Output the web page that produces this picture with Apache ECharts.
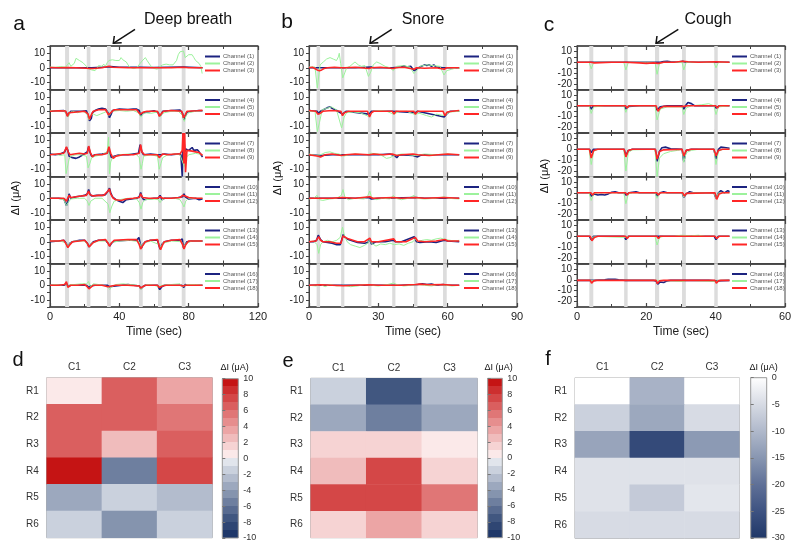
<!DOCTYPE html>
<html><head><meta charset="utf-8">
<script src="https://cdn.jsdelivr.net/npm/echarts@6/dist/echarts.min.js"></script>
<style>html,body{margin:0;padding:0;background:#fff}#c{width:799px;height:551px}</style>
</head><body><div id="c"></div>
<script>
// ---------- stimulus bands (sec) ----------
const bandsA = [[8.7,11],[21.2,23.3],[32.9,35.1],[51.3,53.5],[62.3,64.5],[76,78.2]];
const bandsB = [[3.3,4.8],[13.9,15.3],[25.5,27],[36,37.4],[45.4,46.9],[58,59.6]];
const bandsC = [[3.55,4.7],[13.6,14.6],[22.5,23.7],[30.3,31.4],[39.6,40.6]];

// ---------- panel a : deep breath ----------
const A1 = [[0,0],[9,0],[10,0.5],[11,0],[22,0],[23,-0.5],[24,0],[33,0.5],[34,1.2],[35,0.8],[40,0.3],[52,0.3],[53,0.5],[60,0.2],[77,0.5],[78,0.2],[88,0]];
const A2 = [[0,0.5],[3,0.3],[6,0.8],[9,0.4],[10,2],[11,3.5],[12,1],[13,0.5],[14,3],[15,6.5],[16,7],[17,5],[18,4.5],[19,3.5],[20,4],[21,1],[22,-0.5],[23,-0.5],[24,-1.5],[25,-1],[26,-2],[27,-0.5],[28,1.5],[29,2],[30,1],[31,2.5],[32,1],[33,3.5],[34,5],[35,4],[36,5.5],[37,4.5],[38,5],[39,6],[40,5],[41,7],[42,5.5],[43,6],[44,4],[45,2],[46,0.5],[47,0.3],[48,-0.5],[49,0.5],[50,0],[51,1],[52,3],[53,4.5],[54,5],[55,7],[56,5],[57,4],[58,1.5],[59,0.5],[60,-0.5],[61,-1.5],[62,-1],[63,0.5],[64,1.5],[65,2],[66,1.5],[67,2.5],[68,1.5],[69,2],[70,2.5],[71,2],[72,3],[73,5],[74,9],[75,11],[76,10],[77,11.5],[78,7],[79,6],[80,9],[81,8.5],[82,9],[83,7],[84,5],[85,4],[86,3],[87,1],[87.8,-4]];
const A3 = [[0,0.2],[5,0],[10,0.2],[15,0],[21,-0.3],[22,-1],[23,-0.5],[25,-0.5],[30,0],[34,1],[36,0.3],[45,0],[52,0],[60,0],[70,0],[77,0.3],[80,0],[88,0]];
const A4 = [[0,0],[5,0.3],[8,0.5],[9.5,-1],[10.3,-3.5],[11,-1.5],[12,0],[18,0],[21,0.3],[22,-3],[22.8,-6.5],[23.8,-5],[24.5,-1],[26,0.5],[28,1.5],[30,2],[32,1.5],[33.5,-1],[34.3,-4.5],[35.3,-2],[36,0.5],[40,1.5],[45,1.2],[48,1.5],[50,1.5],[51.5,0.5],[52.3,-3],[53,-4],[54,-1],[55,0],[60,0.3],[62.5,-1],[63.3,-3.5],[64.3,-2],[65,0],[70,0.5],[75,0.8],[76.5,-1.5],[77.3,-6],[78.2,-3],[79,-0.5],[82,0],[86,0.5],[88,0.3]];
const A5 = [[0,0.5],[4,0],[8,0.5],[9.5,-2],[10.5,-4],[11.5,-1],[13,0],[16,-1],[19,0],[21.5,-2],[22.5,-6],[23.5,-3],[25,-2],[27,-3],[29,-2],[31,-1],[33,0],[34,-3],[35,-2],[36,0],[40,0.5],[44,0],[48,0.5],[51,-1],[52.5,-4],[53.5,-2],[55,-1],[58,-1.5],[60,-1],[62,-0.5],[63.5,-4],[64.5,-2],[66,-1],[70,0],[74,0],[76.5,-3],[77.5,-7],[78.5,-3],[80,-1],[84,0],[88,0.5]];
const A6 = [[0,0],[5,0.3],[9,0.2],[10,-3.5],[11,-1],[12,0],[20,0],[22,-2],[22.8,-5.5],[24,-2],[25,0],[28,1],[32,1.2],[33.8,-2.5],[34.5,-3.5],[35.5,-0.5],[37,1],[45,1],[50,1],[52,-2],[52.8,-3],[54,-0.5],[56,0],[62,0],[63,-3.5],[64,-2],[65.5,0],[70,0.5],[76,0],[77,-4.5],[78,-2.5],[79,0],[85,0.3],[88,0.6]];
const A7 = [[0,0.5],[3,0],[6,0.5],[8.5,2],[9.5,5],[10.3,3],[11,-1],[13,-2],[15,-2.5],[17,-1.5],[19,0],[21.5,2],[22.3,5.5],[23,2],[24,-1],[26,0],[30,0.5],[33,1],[33.8,5],[34.5,1],[35.5,-2],[37,-1],[40,0],[45,0],[48,0.5],[51,1],[52,7],[53,2],[54,0],[58,0.5],[62,0],[63,1],[64,0],[66,0.5],[70,0],[74,0.5],[75.5,0],[76.3,-15],[76.8,15],[77.3,10],[77.8,2],[78.3,4],[79,4.5],[80,3],[82,5],[83,3],[85,3.5],[86,2],[88,-1.5]];
const A8 = [[0,0],[3,0.5],[6,-0.5],[8.5,0],[9.3,-13],[10.3,-12],[11,-3],[12,-1],[15,0],[18,0],[21,-1],[22,-9],[23,-6],[24,-2],[26,-1],[30,0],[33,2],[33.8,12],[34.3,-13],[35,-5],[36,-2],[40,0],[45,0.5],[50,0],[51.5,-2],[52.5,-10],[53.3,-6],[54,-1],[58,0],[62,-1],[63,-10],[64,-6],[65,-2],[68,0],[72,0.5],[75,0],[76.5,-5],[77.5,-8],[78.5,-2],[80,0],[84,1],[88,0]];
const A9 = [[0,0],[4,0.5],[8,1],[9.5,5.5],[10.5,2],[11.5,0],[14,0.5],[17,1],[20,0.5],[21.5,1],[22.3,6],[23.3,1.5],[24.5,-1.5],[26,0],[30,0],[33,1],[34,5.5],[35,1],[36.5,-2.5],[38,-1],[42,0],[48,0],[51.5,1],[52.3,7],[53,2],[54.5,0],[58,0],[62,0],[63,-2],[64,-1],[65,0.5],[68,0],[72,0.5],[75,0.5],[76.3,3],[76.7,15],[77.2,-6],[77.7,15],[78.2,-12],[79,3],[80,2],[82,2.5],[84,2],[86,1.5],[88,-0.5]];
const A10 = [[0,0],[5,0],[8,-0.5],[9.5,-5],[10.3,-2],[11,3],[12,0],[15,1],[18,1.5],[20,2],[21.5,3],[22.3,6],[23,3],[24,1.5],[27,2],[30,2],[32,2.5],[33.5,5],[34.3,7],[35,4],[36,1],[38,-1],[40,-2],[42,-3],[44,-1],[47,-0.5],[50,0],[51.5,1],[52.3,4],[53,1],[54,-1],[57,-0.5],[60,0],[62.5,0],[63.5,2],[64.5,-1],[66,0],[70,0],[74,0.5],[76.5,1],[77.3,3],[78,1],[80,-0.5],[84,0],[86,-1],[88,-0.5]];
const A11 = [[0,0],[4,0],[8,-1],[9.5,-5],[10.5,-3],[12,-0.5],[16,0],[20,0],[21.5,-2],[22.5,-5],[23.5,-2],[26,0],[30,0],[33.5,-4],[34.5,-10],[35.5,-6],[37,-2],[40,-1],[45,0],[50,-0.5],[51.5,-3],[52.5,-7.5],[53.5,-3],[55,-1],[60,-0.5],[62.5,-1],[63.5,-3],[64.5,-1],[67,0],[72,0],[75,-1],[76.5,-4],[77.3,-6],[78.3,-2],[80,0],[84,0],[88,0]];
const A12 = [[0,0],[5,0],[8,0],[9.5,-2],[10.3,-1],[11,2],[12,0.5],[15,1],[18,1.5],[21,2],[22.3,5],[23,2.5],[25,1.5],[28,2],[31,2],[33.5,5],[34.3,6.5],[35,3],[36.5,0],[38,-1],[41,-1.5],[44,-0.5],[48,0],[51.5,0.5],[52.3,3],[53.5,0.5],[57,0],[62,0],[63.5,1],[65,0],[70,0],[75,0.5],[76.5,2],[77.3,3],[78,1.5],[80,0.5],[84,0],[88,0]];
const A13 = [[0,0],[5,0.5],[8,1],[9.3,-1],[10.3,-3.5],[11.5,-1],[13,0],[17,1],[20,1],[21.5,-1],[22.5,-3.5],[23.5,-2],[25,0],[28,1],[32,1],[33.5,-1],[34.5,-3],[35.5,-1],[37,0.5],[45,1],[50,1],[51.3,3],[52,-1],[52.7,-4.5],[53.5,-2],[55,0],[58,1],[62,1],[62.8,1.5],[63.5,-5],[64.5,-2],[66,0],[70,1],[75,1],[76.3,2],[77,-4],[78,-3],[79,0],[82,0.5],[88,0.5]];
const A14 = [[0,0.5],[6,0.5],[9.5,-1],[10.3,-3],[11.5,-1],[14,0.5],[20,0.5],[22.3,-3],[24,-1],[28,0.5],[33,0.5],[34,-2.5],[35.5,-0.5],[40,0.5],[46,1],[51.5,0],[52.5,-3.5],[54,-1],[58,0.5],[63,-2],[64,-4],[65,-1],[70,0.5],[76,0],[77,-3.5],[78.5,-1],[82,0.5],[88,0.5]];
const A15 = [[0,0.5],[5,0.5],[8,1],[9.5,-2],[10.3,-4],[11.5,-2],[13,0],[17,0.5],[20,1],[21.5,-1],[22.5,-3.5],[23.5,-2.5],[25,-0.5],[28,1],[32,1.5],[33.5,-1],[34.3,-3],[35.3,-1],[37,1],[45,1.5],[50,1.5],[51.5,-2],[52.3,-5],[53.3,-3],[55,0],[58,1],[62,1.5],[63,-3],[63.8,-5.5],[65,-2],[66,0],[70,1],[75,1.5],[76.5,-2],[77.3,-5],[78.3,-2],[80,0.5],[84,0.5],[88,0.5]];
const A16 = [[0,0],[8,0],[9.5,1],[10.5,-0.5],[12,0],[21,0],[22.3,-1.5],[23.5,-0.5],[26,0],[33,0],[34.3,-1],[35,0],[45,0.5],[51.5,-0.5],[52.5,-2.5],[53.5,-1],[55,0],[62,0],[63.3,-3],[64.5,-1],[66,0],[76,0],[77.2,-1.5],[78,0.5],[80,0],[88,0]];
const A17 = [[0,0],[3,0.5],[6,0],[9,1],[10.3,-1],[11.5,0.5],[14,0.5],[18,1],[21,1],[22.3,2.5],[23.3,-1],[25,1],[28,0.5],[31,0],[33.5,-1.5],[34.5,-3],[35.5,-1],[38,0.5],[42,1],[46,0.5],[50,0],[51.5,-1],[52.5,-3],[53.5,-1],[56,0.5],[60,0],[62.5,-1],[63.5,-2],[65,0],[70,0.5],[75,1],[76.5,-1],[77.5,-1.5],[79,0.5],[84,0.5],[88,0]];
const A18 = [[0,0],[5,0],[8.5,0.5],[9.5,2.5],[10.3,-1.5],[11,-0.5],[12,0],[16,0],[20,0.5],[21.5,-1],[22.5,-2.5],[23.5,-1.5],[25,0],[30,0],[33.5,-1],[34.3,-2],[35.5,-0.5],[38,0],[45,0],[51.5,-0.5],[52.3,-2],[53.5,-1],[55,0],[62,0],[63,-1.5],[63.8,-2],[65,-0.5],[67,0],[75,0],[76.5,-0.5],[77.3,-1],[78.5,0],[82,0],[88,0]];

// ---------- panel b : snore ----------
const B1 = [[0,0],[20,0],[27,0.5],[28,0],[36,0],[40,0.5],[41,1.5],[42,0.5],[44,1],[45.5,-2],[46.5,-1],[48,0.5],[50,2],[51,1.5],[52,2],[53,1],[54,2],[55,0.5],[58,0],[65,0]];
const B2 = [[0,0.5],[2.6,0.5],[3.6,-14],[4.8,2],[6.2,4],[7.6,6],[9.1,7],[10.5,6],[11.9,5],[12.7,7.5],[13.1,10],[13.7,3],[14.6,-7],[15.6,-3],[16.3,0],[17.7,1],[19.9,4],[21.3,2],[22.7,1],[24.2,1.5],[25.7,-6],[26.7,-3],[27.8,2],[29.3,4],[30.7,3],[32.9,1],[35,0],[36.5,-2],[37.9,1],[40.8,1.5],[43.7,0.5],[45.4,-4],[46.6,-2],[48,1],[50.9,2],[53.8,1.5],[56.7,1],[58.4,-5],[59.6,-2],[61.8,-1],[63.9,0],[65.3,-0.5]];
const B3 = [[0,0],[1.5,0.3],[2.5,-0.5],[3.5,-1.5],[4.5,-2],[5.5,-1.5],[6.5,-0.5],[8,0],[11,0.3],[14,0],[14.8,-1],[15.5,0],[20,0.3],[26,-0.5],[27,0],[31,0.3],[36.5,-0.5],[37.5,0],[41,0.3],[45.5,-1],[46.5,0],[50,-0.3],[55,0],[58.5,-1],[59.5,0],[65,0]];
const B4 = [[0,0.5],[3.5,0],[4,-1.5],[5,0],[8,2.5],[9,3],[10,2],[12,0.5],[14.5,-2],[16,0],[26,-2],[27,0],[36,0],[46,-1],[47,0],[58.5,-4],[59.5,-2],[61,0],[65,0]];
const B5 = [[0,0],[2.6,0],[3.6,-14],[4.5,-8],[5.7,1],[7.6,2],[9.8,3],[11.9,1],[14.1,-11.5],[15.2,-4],[16.3,-1],[19.2,-0.5],[22.1,-1],[25.7,-3.5],[27.8,0],[30.7,0.5],[33.6,0],[36.5,-2],[39.4,0],[42.3,0],[45.4,-2],[48,-1.5],[50.9,-3],[53,-4],[55.2,-2],[58.4,-3],[61,-0.5],[65.3,0]];
const B6 = [[0,0.5],[3,0],[3.8,-2],[4.8,-1.5],[6,0],[10,0.5],[13.8,0],[14.5,-3],[15.3,-1],[17,0],[25.3,0],[26.2,-4],[27,-1],[28,0],[36,0],[36.8,-2],[37.6,0],[45.3,0],[46,-2],[47,0],[58,0],[58.8,-3],[59.8,-0.5],[62,0],[65,0.5]];
const B7 = [[0,0],[5,-0.5],[10,0],[20,0],[30,0],[35,0.5],[37,-0.5],[38,-2],[39,0],[45,-0.5],[47,-1.5],[48,-0.5],[50,0],[65,0]];
const B8 = [[0,0.5],[3,-0.5],[5,0],[7,1.5],[9,2],[11,1],[13,0.5],[15,-1],[17,0],[20,0.5],[25,0],[27,1],[30,0.5],[32,-1],[33.5,-2.5],[35,-2],[37,-0.5],[40,0.5],[43,0],[46,-0.5],[50,0.5],[55,0],[60,0.5],[65,0]];
const B9 = [[0,0],[2,-0.5],[4,-1],[5,-1.5],[7,0],[10,0.5],[14,-0.5],[16,0],[20,0.5],[26,0],[28,0.5],[32,0],[36,0.5],[38,-0.5],[40,0],[45,0.5],[47,0],[52,-0.5],[56,0],[60,0.5],[65,0]];
const B10 = [[0,0],[10,0],[20,0],[26,0.5],[27,-0.5],[30,0],[46,0.5],[50,0],[65,0]];
const B11 = [[0,-0.5],[2,0],[3.5,2],[4.5,-1],[6,-1.5],[9,-0.5],[12,0],[14,2],[14.7,6],[15.5,1],[17,-1],[20,0],[24,-0.5],[25.5,2],[26.3,5],[27,1],[29,-1],[32,0],[35,-0.5],[36.5,2],[37.5,0],[40,-1],[43,0],[45.5,2],[46.5,0],[50,-0.5],[55,0],[58.5,1],[60,0],[65,-0.5]];
const B12 = [[0,0],[10,0],[14.5,0.5],[20,0],[26.3,1],[27.5,0],[36.5,0.5],[40,0],[46,0.5],[50,0],[58.5,0.5],[65,0]];
const B13 = [[0,0],[2,0],[3.3,1],[4,4.5],[5,1.5],[6,0],[8,-0.5],[10,-1],[12,-2],[13.5,-2],[14.3,2],[14.8,5],[15.5,3],[17,1.5],[19,0.5],[21,-0.5],[24,-1],[25.5,-0.5],[26.3,2],[27,-1.5],[29,0],[33,0],[36.5,1],[37.5,0],[40,0],[45.5,3.5],[46.5,0],[48,-0.5],[52,0],[55,-0.5],[58.5,1],[60,0.5],[65,0]];
const B14 = [[0,0],[2,0.5],[3.5,-2],[4.2,-8],[5,-2],[6,0],[8,1],[10,0],[12,1],[13.5,3],[14.5,10],[15.3,4],[16.5,0],[18,-2],[20,-3],[22,-4],[24,-2.5],[25.5,-1],[26.3,2],[27,-1],[29,-3],[31,-1.5],[33,-2],[35,-1],[37,-2],[39,-1.5],[41,-2.5],[43,-1],[45,0],[46,2],[47,0],[49,1],[51,1.5],[53,1],[55,2],[57,2.5],[59,1.5],[61,1],[63,0.5],[65,1]];
const B15 = [[0,0],[3,0.5],[4.2,3.5],[5,1],[6,0],[9,0],[12,-1],[13.8,-1],[14.7,4],[15.5,3],[17,2],[19,1],[21,0],[24,0],[26.3,2.5],[27,0],[30,0],[36.7,2],[37.5,0],[42,0],[46,3],[47,0.5],[50,0],[55,0.5],[58.8,1.5],[60,0.5],[65,0.5]];
const B16 = [[0,0],[20,0],[40,0],[47,0.5],[49,1],[51,0.5],[53,0.8],[55,0],[58,0.5],[60,0],[65,0]];
const B17 = [[0,0],[3,-0.5],[5,0.5],[7,-1],[9,0.5],[12,-0.5],[15,0],[18,-1],[21,-0.5],[24,0.5],[27,0],[30,-0.5],[34,0.5],[36.5,1.5],[38,0.5],[41,-0.5],[44,0],[47,0.5],[50,0],[53,-0.5],[56,0.5],[59,0],[62,-0.5],[65,0]];
const B18 = [[0,0],[5,0.3],[10,0],[15,-0.3],[20,0],[26,0.3],[30,0],[36,0],[40,0],[46,0.5],[48,0.8],[52,0.3],[58,0.5],[62,0],[65,0]];

// ---------- panel c : cough ----------
const C1 = [[0,0],[10,0],[20,0],[24,0],[25,0.8],[26,1],[27,0.5],[29,0],[30.5,1],[31.5,0],[35,0],[44,0]];
const C2 = [[0,0],[3.5,0],[4.1,-6],[4.8,0],[10,0],[13.5,0],[14.1,-7],[14.8,0],[20,0],[22.5,0],[23.1,-11],[23.8,-1],[25,0],[30.3,0],[30.8,-7],[31.5,0],[35,0],[39.5,0],[40.1,-5],[40.8,0],[44,0]];
const C3 = [[0,0],[4,0],[4.5,-1],[5,-0.5],[10,0],[14,0],[14.5,-0.5],[18,-0.5],[20,-1],[22,-0.5],[23.5,-1],[25,0],[28,0],[30.5,1],[31,1.5],[32,0.5],[35,0],[40,0.5],[44,0]];
const C4 = [[0,0],[3.6,0],[4.1,-3],[4.7,0],[10,0],[13.6,0],[14.1,-3],[14.8,-0.5],[18,0],[22.6,0],[23.1,-4],[24,-1],[26,0],[30.3,0],[30.8,-3],[31.5,1],[32,3],[33,2],[34,0],[39.5,0],[40.1,-2],[41,0],[44,0]];
const C5 = [[0,0],[3.5,0],[4.1,-7],[4.8,-1],[8,0],[13.5,0],[14.1,-6],[14.8,0],[22.5,0],[23.1,-13],[24,-3],[26,-1],[30.3,-1],[30.8,-8],[31.5,-2],[33,0],[36,1],[38,2],[39.5,0],[40.1,-8],[40.8,-1],[44,0]];
const C6 = [[0,0],[4,0],[4.5,-1],[5,0],[14,0],[14.5,-2],[15,0],[18,0],[22.8,0],[23.4,-5],[24,-2],[25,-0.5],[30.8,-0.5],[31.3,-1],[32,0],[40,0],[40.5,-2],[41,0],[44,0]];
const C7 = [[0,0],[3.6,0],[4.1,-3],[4.7,0],[10,0],[13.6,0],[14.1,-6],[14.8,-1],[16,0],[22.6,0],[23.1,-11],[23.8,-2],[24.5,1.5],[25.5,2],[27,0.5],[30.3,0],[30.8,-11],[31.5,-1],[33,0],[39.5,0],[40.1,-9],[40.8,0],[41.5,2],[43,1.5],[44,1]];
const C8 = [[0,0],[3.5,0],[4.1,-14],[4.8,-2],[6,0],[13.5,0],[14.1,-20],[14.8,-3],[16,-0.5],[22.5,0],[23.1,-25],[23.8,-8],[25,-4],[27,-2],[29,-1],[30.3,0],[30.8,-12],[31.5,-3],[33,-1],[35,0],[39.5,0],[40.1,-14],[40.8,-2],[42,0],[44,0]];
const C9 = [[0,0],[3.6,0],[4.1,-8],[4.8,-1],[6,0],[13.6,0],[14.1,-7],[14.8,-1],[16,0],[22.6,0],[23.1,-9],[23.8,-2],[25,-0.5],[30.3,0],[30.8,-6],[31.5,-1],[33,0],[39.5,0],[40.1,-6],[40.8,-1],[42,0],[44,0]];
const C10 = [[0,0],[3.6,0],[4.1,-3],[5,-1],[6,-2],[7,-1.5],[8,-2],[9,-1],[10,0.5],[11,1],[12,0],[13.6,0],[14.1,-2],[15,0],[16,0.5],[17,1],[18,0],[22.6,0],[23.1,-3],[24,0],[25,1],[26,0],[30.3,0],[30.8,-4],[31.5,-1],[32.5,1],[33.5,0],[39.5,0],[40.1,-5],[40.8,0],[41.5,2],[42.5,0],[43.5,2],[44,1]];
const C11 = [[0,0],[3.5,0],[4.1,-7],[4.8,-1],[6,0],[13.5,0],[14.1,-10],[14.8,-1],[16,0],[22.5,0],[23.1,-5],[23.8,0],[30.3,0],[30.8,-4],[31.5,-1],[33,0],[39.5,0],[40.1,-5],[40.8,0],[44,0]];
const C12 = [[0,0],[4,0],[4.5,-2],[5,0],[14,0],[14.5,-2],[15,0],[23,0],[23.5,-2],[24,0],[30.5,0],[31,-3],[31.5,-0.5],[32,0],[39.8,0],[40.3,-6],[41,-1],[42,0],[44,0]];
const C13 = [[0,0],[3.6,0],[4.1,-3],[4.8,0],[13.6,0],[14.1,-3],[14.8,0],[22.8,0],[23.3,-1],[24,0],[30.5,0],[31,-1],[31.5,0],[39.6,0],[40.1,-3],[40.8,0],[44,0]];
const C14 = [[0,0],[3.8,0],[4.2,-2],[5,0],[14,-1],[15,0],[22.5,0],[23.1,-8],[23.8,-1],[25,0],[28,0],[30,1],[33,0.5],[35,1],[37,0],[39.8,0],[40.3,-2],[41,0],[44,0]];
const C15 = [[0,0],[3.8,0],[4.3,-4],[5,-1],[6,0],[14,0],[14.5,-2],[15,0],[23,0],[23.5,-2],[24,0],[30.5,0],[31,-1.5],[31.5,0],[39.8,0],[40.3,-2],[41,0],[44,0]];
const C16 = [[0,-0.5],[5,-0.5],[8,0],[9,0.5],[11,0.5],[12,0],[14,-0.5],[18,-0.5],[22,-0.5],[22.8,-1],[23.3,-4],[24,-2],[25,-2.5],[26,-1],[27,-0.5],[35,-0.5],[38,-0.5],[40,-1],[44,-0.5]];
const C17 = [[0,-0.5],[3.8,-0.5],[4.2,-2],[5,-0.5],[14,-0.5],[23,-0.5],[23.3,-2],[24,-0.5],[30.8,-1.5],[31.5,-0.5],[40,-1.5],[40.8,-0.5],[44,-0.5]];
const C18 = [[0,-0.5],[3.8,-0.5],[4.2,-3],[4.8,-1],[5.5,-0.5],[14,-0.5],[14.4,-1.5],[15,-0.5],[22.8,-0.5],[23.2,-3.5],[23.8,-1],[25,-0.5],[30.4,-0.5],[30.8,-2],[31.4,-0.5],[39.8,-0.5],[40.2,-3],[40.8,-1],[41.5,-0.5],[44,-0.5]];

// ---------- heat maps (rows R1..R6, cols C1..C3) ----------
const heatCols = ['C1','C2','C3'];
const heatRows = ['R1','R2','R3','R4','R5','R6'];
const heatD = [[0.5,6.5,3.5],[6.2,6.2,5.2],[6.1,2.5,6.3],[9.5,-5.5,7.2],[-3.5,-1.2,-2.3],[-1.3,-4.2,-1.2]];
const heatE = [[-1.5,-7.5,-2.5],[-3.2,-5.5,-3.5],[1.5,1.5,0.5],[2.5,7.5,1.5],[7.5,7.5,5.5],[1.5,3.5,1.5]];
const heatF = [[0,-11,0],[-6.5,-12.5,-5],[-13,-26.5,-14.5],[-4,-4,-4],[-4,-7.5,-3.5],[-5,-5,-5]];

// colour steps -10..10 (one per unit)
const stepColors = ['#1e3769','#2f4673','#415780','#586b90','#6e7f9f','#8594ae','#9ca8be','#b3bccd','#cad1dd','#e1e5ec',
                    '#fbe9e9','#f6d3d3','#f0bcbc','#eca5a5','#e68e8e','#e07676','#da5f5f','#d44747','#cd2f2f','#c51414'];
const fColors = ['#1f3767','#3d5281','#5f7097','#8896b1','#b0b9cb','#d7dbe4','#ffffff'];

// ---------- build ----------
const FONT = '"Liberation Sans", Arial, sans-serif';
const NAVY = '#1c2380', GREEN = '#9cf29c', RED = '#ff2626';
const chColors = [NAVY, GREEN, RED];
const chWidths = [1.6, 1, 1.6];

const panels = [
  {key:'a', left:50, xMax:120, xInt:40, yMin:-15, yMax:15, bands:bandsA, chans:[A1,A2,A3,A4,A5,A6,A7,A8,A9,A10,A11,A12,A13,A14,A15,A16,A17,A18]},
  {key:'b', left:309, xMax:90, xInt:30, yMin:-15, yMax:15, bands:bandsB, chans:[B1,B2,B3,B4,B5,B6,B7,B8,B9,B10,B11,B12,B13,B14,B15,B16,B17,B18]},
  {key:'c', left:577, xMax:60, xInt:20, yMin:-25, yMax:15, bands:bandsC, chans:[C1,C2,C3,C4,C5,C6,C7,C8,C9,C10,C11,C12,C13,C14,C15,C16,C17,C18]}
];
const subTops = [46, 89.5, 133, 176.5, 220, 263.5];
const subH = 43.5, subW = 208;

const grid = [], xAxis = [], yAxis = [], series = [], legend = [];
const axCol = '#444';
panels.forEach((p, pi) => {
  for (let k = 0; k < 6; k++) {
    const g = pi * 6 + k;
    grid.push({left:p.left, top:subTops[k], width:subW, height:subH, show:true, borderColor:axCol, borderWidth:1});
    const baseX = {gridIndex:g, type:'value', min:0, max:p.xMax, interval:p.xInt,
      axisLine:{show:true, onZero:false, lineStyle:{color:axCol, width:1.5}},
      axisTick:{show:true, inside:true, length:4, lineStyle:{color:axCol, width:1.2}},
      minorTick:{show:true, splitNumber:2, length:3, lineStyle:{color:axCol}},
      splitLine:{show:false}};
    xAxis.push(Object.assign({}, baseX, {position:'bottom',
      axisLabel:{show:k===5, fontSize:11, color:'#222', margin:4, fontFamily:FONT},
      name: k===5 ? 'Time (sec)' : '', nameLocation:'middle', nameGap:19,
      nameTextStyle:{fontSize:12, color:'#222', fontFamily:FONT}}));
    xAxis.push(Object.assign({}, baseX, {position:'top', axisLabel:{show:false}}));
    yAxis.push({gridIndex:g, type:'value', min:p.yMin, max:p.yMax, interval:5,
      axisLine:{show:true, lineStyle:{color:axCol, width:1}},
      axisTick:{show:true, length:3, lineStyle:{color:axCol}},
      axisLabel:{formatter: v => (v % 10 === 0 ? String(v) : ''), fontSize:10, color:'#222', margin:5, fontFamily:FONT},
      splitLine:{show:false}});
    series.push({type:'line', xAxisIndex:2*g, yAxisIndex:g, data:[], silent:true, z:0,
      markArea:{silent:true, itemStyle:{color:'#dcdcdc'}, data:p.bands.map(b => [{xAxis:b[0]}, {xAxis:b[1]}])}});
    const names = [];
    for (let j = 0; j < 3; j++) {
      const ch = 3 * k + j;
      const nm = p.key + '|Channel (' + (ch + 1) + ')';
      names.push(nm);
      series.push({name:nm, type:'line', xAxisIndex:2*g, yAxisIndex:g, data:p.chans[ch], symbol:'none', showSymbol:false,
        lineStyle:{color:chColors[j], width:chWidths[j]}, itemStyle:{color:chColors[j]}, z:5});
    }
    legend.push({data:names.map(n => ({name:n, icon:'rect'})), orient:'vertical', left:p.left + 155, top:subTops[k] + 7,
      itemWidth:15, itemHeight:2, itemGap:0, padding:0, selectedMode:false, formatter: n => n.split('|')[1],
      textStyle:{fontSize:6, lineHeight:7, height:7, color:'#555', fontFamily:FONT, padding:[0,0,0,-2]}});
  }
});

// heatmaps
const heatBoxes = [
  {left:46.7, top:377.7, width:165.6, height:160, data:heatD, cb:{left:222.3, top:378.7, width:16, height:159.3}, min:-10, max:10, interval:2},
  {left:310.7, top:378.3, width:166.6, height:159.4, data:heatE, cb:{left:487.7, top:378.3, width:14.6, height:159.4}, min:-10, max:10, interval:2},
  {left:575, top:377.7, width:164.3, height:160.6, data:heatF, cb:{left:750.7, top:377.7, width:16, height:160.3}, min:-30, max:0, interval:5}
];
const stepStops = [];
for (let i = 0; i < 20; i++) {
  stepStops.push({offset:i/20, color:stepColors[19-i]});
  stepStops.push({offset:(i+1)/20, color:stepColors[19-i]});
}
const fStops = fColors.slice().reverse().map((c, i, arr) => ({offset:i/(arr.length-1), color:c}));
const heatSeriesIdx = [];
heatBoxes.forEach((h, hi) => {
  const g = grid.length;
  grid.push({left:h.left, top:h.top, width:h.width, height:h.height, show:true, borderColor:'#999', borderWidth:1});
  xAxis.push({gridIndex:g, type:'category', data:heatCols, position:'top', axisLine:{show:false}, axisTick:{show:false},
    axisLabel:{fontSize:10, color:'#333', margin:5, fontFamily:FONT}, splitLine:{show:false}});
  yAxis.push({gridIndex:g, type:'category', data:heatRows, inverse:true, axisLine:{show:false}, axisTick:{show:false},
    axisLabel:{fontSize:10, color:'#333', margin:8, fontFamily:FONT}, splitLine:{show:false}});
  const data = [];
  h.data.forEach((row, r) => row.forEach((v, c) => data.push([c, r, v])));
  heatSeriesIdx.push(series.length);
  series.push({type:'heatmap', xAxisIndex:xAxis.length-1, yAxisIndex:yAxis.length-1, data:data, itemStyle:{borderWidth:0}, silent:true});
  const cg = grid.length;
  grid.push({left:h.cb.left, top:h.cb.top, width:h.cb.width, height:h.cb.height, show:true, borderColor:'#999', borderWidth:1,
    backgroundColor:{type:'linear', x:0, y:0, x2:0, y2:1, colorStops: hi < 2 ? stepStops : fStops}});
  xAxis.push({gridIndex:cg, type:'value', min:0, max:1, show:false});
  yAxis.push({gridIndex:cg, type:'value', min:h.min, max:h.max, interval:h.interval, position:'right',
    axisLine:{show:false}, axisTick:{show:true, length:3, lineStyle:{color:'#777'}},
    axisLabel:{fontSize:9, color:'#333', margin:5, fontFamily:FONT}, splitLine:{show:false}});
});

const visualMap = [
  {type:'piecewise', show:false, seriesIndex:[heatSeriesIdx[0], heatSeriesIdx[1]],
   pieces: stepColors.map((c, i) => ({min:-10+i, max:-9+i, color:c}))},
  {type:'continuous', show:false, seriesIndex:heatSeriesIdx[2], min:-30, max:0, inRange:{color:fColors}}
];

function txt(t, x, y, size, opts) {
  return Object.assign({type:'text', x:x, y:y, silent:true,
    style:{text:t, fill:'#111', font: size + 'px ' + FONT, textAlign:'center', textVerticalAlign:'middle'}}, opts || {});
}
const graphic = [
  txt('a', 19, 24, 21), txt('b', 287, 22, 21), txt('c', 549, 25, 21),
  txt('d', 18, 360, 20), txt('e', 288, 361, 20), txt('f', 548, 359, 20),
  txt('Deep breath', 188, 20, 16), txt('Snore', 423, 20, 16), txt('Cough', 708, 20, 16),
  txt('ΔI (μA)', 16, 198, 11, {rotation:Math.PI/2}),
  txt('ΔI (μA)', 278, 178, 11, {rotation:Math.PI/2}),
  txt('ΔI (μA)', 545, 176, 11, {rotation:Math.PI/2}),
  txt('ΔI (μA)', 234.7, 368, 9), txt('ΔI (μA)', 498.7, 368, 9), txt('ΔI (μA)', 763.7, 368, 9),
  {type:'line', silent:true, shape:{x1:135, y1:29.3, x2:113.3, y2:43.3}, style:{stroke:'#111', lineWidth:1.5}},
  {type:'polyline', silent:true, shape:{points:[[114.3,36],[113.3,43.3],[121.7,42.7]]}, style:{stroke:'#111', lineWidth:1.5, fill:null}},
  {type:'line', silent:true, shape:{x1:391.7, y1:29.3, x2:370, y2:43.3}, style:{stroke:'#111', lineWidth:1.5}},
  {type:'polyline', silent:true, shape:{points:[[371,36],[370,43.3],[378.3,42.7]]}, style:{stroke:'#111', lineWidth:1.5, fill:null}},
  {type:'line', silent:true, shape:{x1:678.3, y1:29.3, x2:656, y2:43.3}, style:{stroke:'#111', lineWidth:1.5}},
  {type:'polyline', silent:true, shape:{points:[[657,36],[656,43.3],[664,42.7]]}, style:{stroke:'#111', lineWidth:1.5, fill:null}}
];

const chart = echarts.init(document.getElementById('c'), null, {renderer:'canvas'});
chart.setOption({animation:false, backgroundColor:'#fff', textStyle:{fontFamily:FONT},
  grid, xAxis, yAxis, series, legend, visualMap, graphic});
</script></body></html>
